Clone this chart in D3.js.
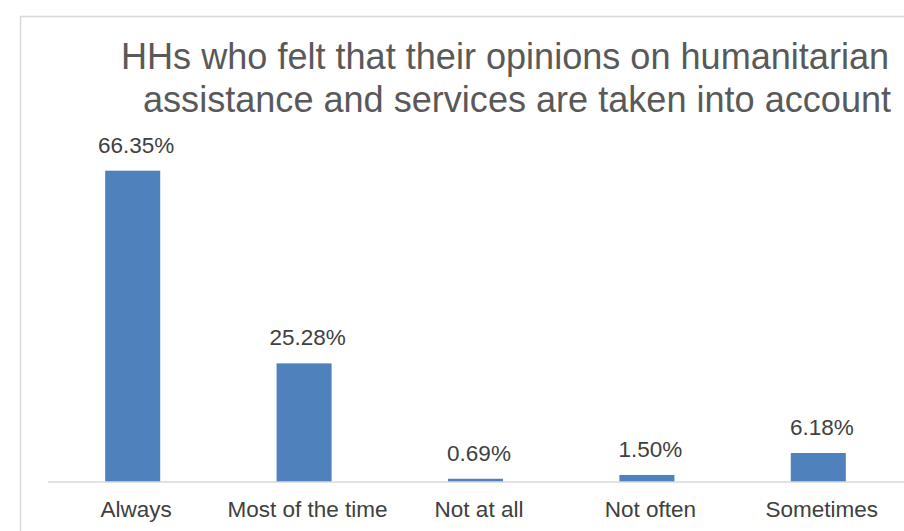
<!DOCTYPE html>
<html>
<head>
<meta charset="utf-8">
<script src="https://cdn.jsdelivr.net/npm/d3@7"></script>
<style>
  html, body { margin: 0; padding: 0; background: #fff; }
  svg { display: block; font-family: "Liberation Sans", Arial, Helvetica, sans-serif; }
</style>
</head>
<body>
<svg id="chart" width="904" height="531"></svg>
<script>
const categories = ["Always", "Most of the time", "Not at all", "Not often", "Sometimes"];
const values = [66.35, 25.28, 0.69, 1.50, 6.18];
const valueLabels = ["66.35%", "25.28%", "0.69%", "1.50%", "6.18%"];
const titleLines = ["HHs who felt that their opinions on humanitarian", "assistance and services are taken into account"];

const svg = d3.select("#chart");
const W = 904, H = 531;
const baseY = 482;

// chart border
svg.append("rect")
  .attr("x", 20.5).attr("y", 16.5)
  .attr("width", W + 20).attr("height", H + 20)
  .attr("fill", "#fff").attr("stroke", "#d9d9d9").attr("stroke-width", 1.5);

// title
const titleX = [121, 143];
const titleY = [69, 112];
svg.append("g").selectAll("text").data(titleLines).join("text")
  .attr("x", (d, i) => titleX[i])
  .attr("y", (d, i) => titleY[i])
  .attr("font-size", 36.1)
  .attr("fill", "#595959")
  .text(d => d);

const x = d3.scaleBand().domain(categories).range([47, 904]).paddingInner(0.679).paddingOuter(0.3395);
const y = d3.scaleLinear().domain([0, 70]).range([baseY, baseY - 70 * 4.692]);

// bars
svg.append("g").selectAll("rect").data(values).join("rect")
  .attr("x", (d, i) => x(categories[i]))
  .attr("y", d => y(d))
  .attr("width", x.bandwidth())
  .attr("height", d => baseY - y(d))
  .attr("fill", "#4f81bd");

// axis
const axis = d3.axisBottom(x).tickSize(0).tickPadding(0);
const gAxis = svg.append("g").attr("transform", `translate(0,${baseY})`).call(axis);
gAxis.select(".domain").attr("stroke", "#d9d9d9").attr("stroke-width", 1.5)
  .attr("d", `M48,0H904`);
gAxis.selectAll(".tick text")
  .attr("font-size", 22.5)
  .attr("font-family", "\"Liberation Sans\", Arial, sans-serif")
  .attr("fill", "#404040")
  .attr("dy", null)
  .attr("y", 35)
  .attr("dx", 3.5);

// value labels
svg.append("g").selectAll("text").data(values).join("text")
  .attr("x", (d, i) => x(categories[i]) + x.bandwidth() / 2 + 3.5)
  .attr("y", d => y(d) - 18)
  .attr("text-anchor", "middle")
  .attr("font-size", 22.5)
  .attr("fill", "#404040")
  .text((d, i) => valueLabels[i]);
</script>
</body>
</html>
